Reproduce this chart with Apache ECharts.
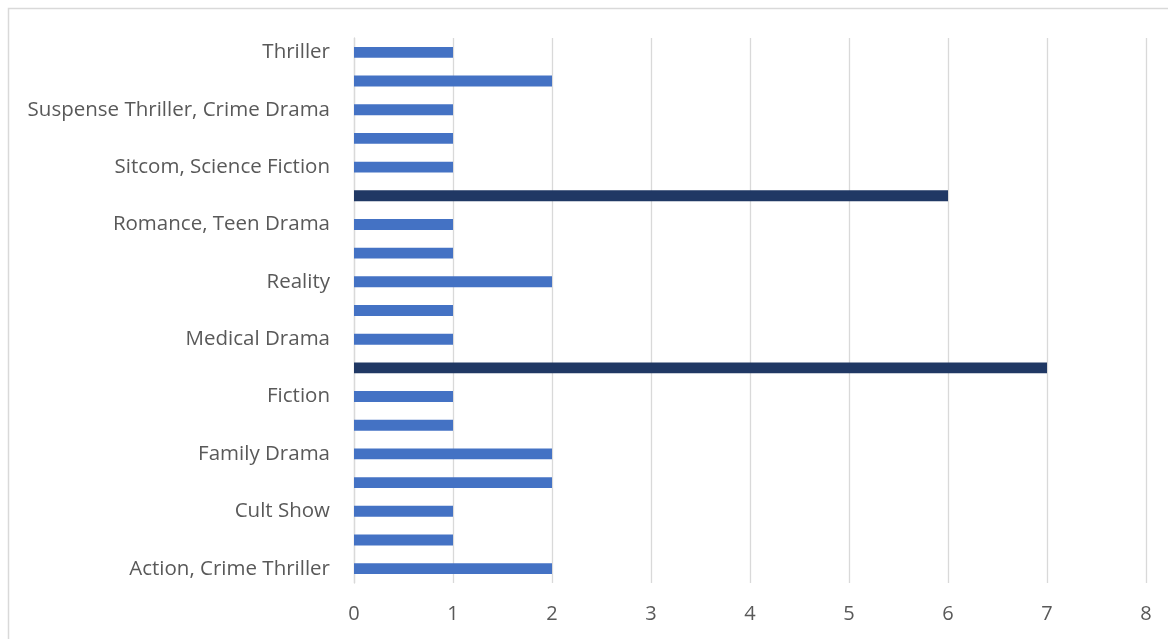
<!DOCTYPE html>
<html>
<head>
<meta charset="utf-8">
<style>
html,body{margin:0;padding:0;background:#fff;}
#chart{width:1168px;height:639px;}
</style>
<script src="https://cdn.jsdelivr.net/npm/echarts@6/dist/echarts.min.js"></script>
</head>
<body>
<div id="chart"></div>
<script>
const categories = [
  "Action, Crime Thriller", "Comedy", "Cult Show", "Drama", "Family Drama",
  "Fantasy", "Fiction", "Horror", "Medical Drama", "Mystery",
  "Reality", "Romance", "Romance, Teen Drama", "Science Fiction", "Sitcom, Science Fiction",
  "Superhero", "Suspense Thriller, Crime Drama", "Teen Drama", "Thriller"
];
const counts = [2, 1, 1, 2, 2, 1, 1, 7, 1, 1, 2, 1, 1, 6, 1, 1, 1, 2, 1];
const xTicks = [0, 1, 2, 3, 4, 5, 6, 7, 8];

const chart = echarts.init(document.getElementById('chart'));
chart.setOption({
  animation: false,
  backgroundColor: '#ffffff',
  graphic: [{
    type: 'rect',
    shape: { x: 8.5, y: 8.5, width: 1170, height: 640 },
    style: { fill: 'none', stroke: '#d9d9d9', lineWidth: 1.5 },
    silent: true
  }],
  grid: { left: 354, right: 22, top: 38, bottom: 56, containLabel: false },
  xAxis: {
    type: 'value',
    min: xTicks[0], max: xTicks[xTicks.length - 1], interval: 1,
    axisLine: { show: false },
    axisTick: { show: false },
    splitLine: { show: true, lineStyle: { color: '#d9d9d9', width: 1.3 } },
    axisLabel: { color: '#595959', fontSize: 20, fontFamily: 'Open Sans', margin: 21 }
  },
  yAxis: {
    type: 'category',
    data: categories,
    axisLine: { show: true, lineStyle: { color: '#d9d9d9', width: 1.3 } },
    axisTick: { show: false },
    axisLabel: { interval: 1, color: '#595959', fontSize: 20.5, fontFamily: 'Open Sans', margin: 24 }
  },
  series: [{
    type: 'bar',
    data: counts,
    barWidth: '38%',
    itemStyle: {
      color: function (p) { return p.value >= 6 ? '#203864' : '#4472c4'; }
    }
  }]
});
</script>
</body>
</html>
